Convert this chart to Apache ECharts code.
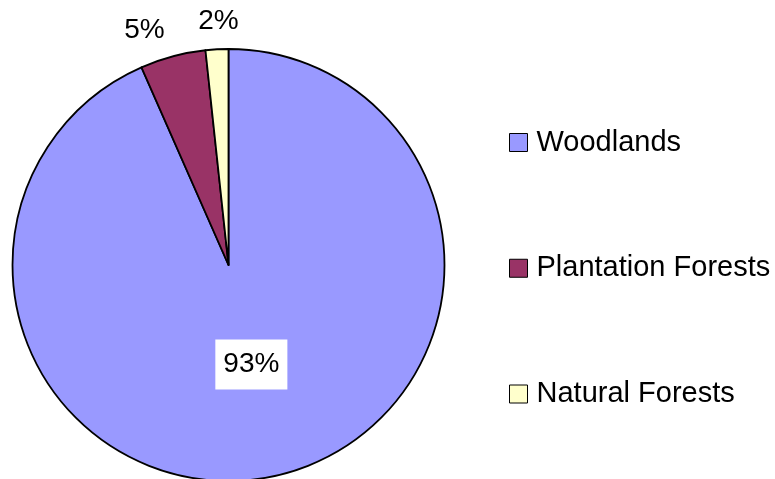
<!DOCTYPE html>
<html>
<head>
<meta charset="utf-8">
<script src="https://cdn.jsdelivr.net/npm/echarts@6/dist/echarts.min.js"></script>
<style>
  html, body { margin: 0; padding: 0; background: #fff; }
  #chart { width: 775px; height: 479px; }
</style>
</head>
<body>
<div id="chart"></div>
<script>
// forest cover shares (percent)
const categories = ['Woodlands', 'Plantation Forests', 'Natural Forests']
const shares = [93.4, 4.9, 1.7]
const colors = ['#9999FF', '#993366', '#FFFFCC']

const font = '"Liberation Sans", Arial, sans-serif'

const chart = echarts.init(document.getElementById('chart'))

chart.setOption({
  animation: false,
  legend: {
    orient: 'vertical',
    left: 509,
    top: 128,
    padding: 0,
    itemWidth: 18,
    itemHeight: 18,
    itemGap: 96.75,
    icon: 'rect',
    itemStyle: { borderColor: '#000', borderWidth: 1 },
    textStyle: {
      fontFamily: font, fontSize: 29, lineHeight: 28, color: '#000',
      padding: [0, 0, 0, 4]
    },
    data: categories
  },
  series: [{
    type: 'pie',
    center: [228.5, 265],
    radius: 216,
    startAngle: 90,
    clockwise: true,
    percentPrecision: 0,
    avoidLabelOverlap: false,
    itemStyle: { borderColor: '#000', borderWidth: 1.8 },
    emphasis: { disabled: true },
    label: {
      position: 'outside',
      formatter: '{d}%',
      fontFamily: font,
      fontSize: 28,
      color: '#000',
      distanceToLabelLine: 0
    },
    labelLine: { show: false, length: 28, length2: 0 },
    labelLayout: function (p) {
      if (p.dataIndex === 0) return { dy: -9 }
      if (p.dataIndex === 1) return { dx: -1, dy: 1 }
      return { align: 'center', dx: 3 }
    },
    data: categories.map((name, i) => ({
      name: name,
      value: shares[i],
      itemStyle: { color: colors[i] },
      label: i === 0 ? {
        position: 'inside',
        backgroundColor: '#fff',
        padding: [11, 8, 9, 8],
        lineHeight: 30
      } : undefined
    }))
  }]
})
</script>
</body>
</html>
